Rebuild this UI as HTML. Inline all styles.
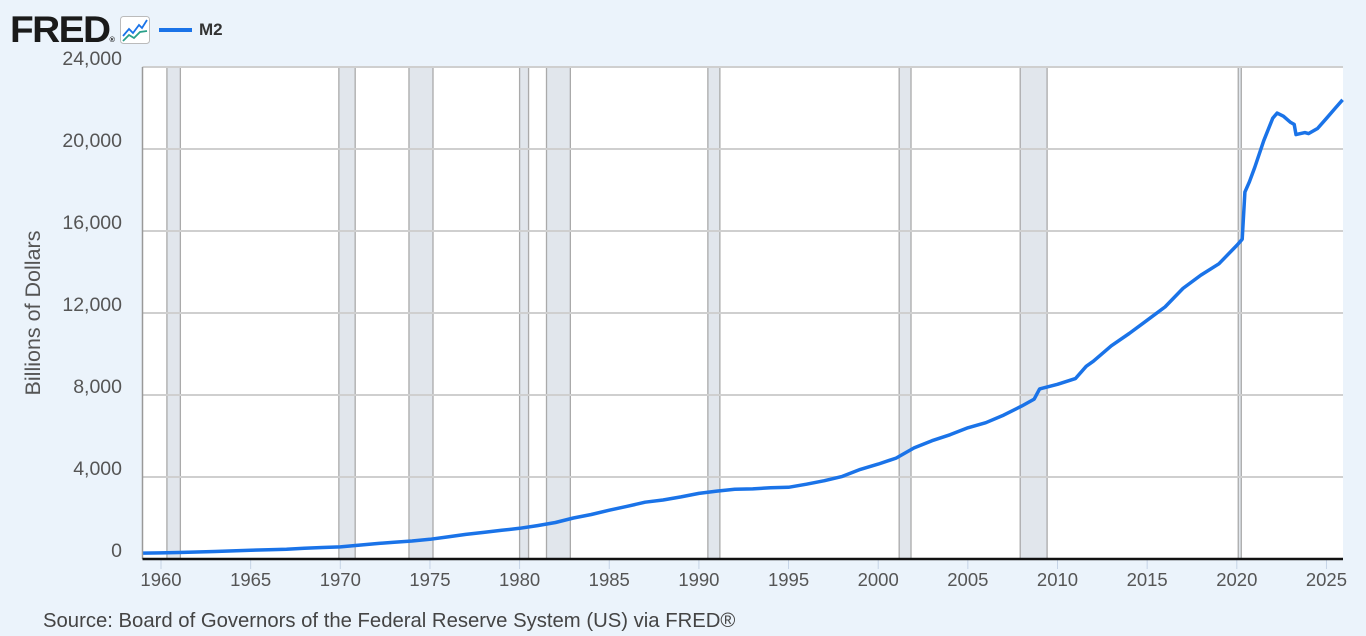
<!DOCTYPE html>
<html><head><meta charset="utf-8"><style>
html,body{margin:0;padding:0;background:#ebf3fb;width:1366px;height:636px;overflow:hidden;font-family:"Liberation Sans",sans-serif}
#hdr{position:absolute;left:10px;top:12px;height:34px}
</style></head><body>
<div id="hdr">
<span style="position:absolute;left:0;top:-2px;font-weight:900;font-size:37px;letter-spacing:-1.5px;color:#1a1a1a;line-height:40px;transform:scaleX(1.05);transform-origin:left">FRED<span style="font-size:7px;letter-spacing:0">®</span></span>
<svg style="position:absolute;left:110px;top:4px" width="30" height="28"><rect x="0.5" y="0.5" width="29" height="27" rx="3" fill="#fff" stroke="#bbb"/><polyline points="3,20 9,13 13,17 19,9 22,12 27,4" fill="none" stroke="#1a73e8" stroke-width="1.8"/><polyline points="3,25 9,19 14,22 20,16 27,15" fill="none" stroke="#2aa08a" stroke-width="1.8"/></svg>
<div style="position:absolute;left:149px;top:0;height:36px;white-space:nowrap"><span style="display:inline-block;width:33px;height:4px;background:#1a73e8;vertical-align:middle;margin-top:16px"></span><span style="position:absolute;left:40px;top:8px;font-weight:bold;font-size:17px;color:#333">M2</span></div>
</div>
<svg id="chart" width="1366" height="636" style="position:absolute;left:0;top:0"></svg>
<div style="position:absolute;left:43px;top:610px;font-size:20.3px;color:#444;white-space:nowrap">Source: Board of Governors of the Federal Reserve System (US) via FRED®</div>
<script>
const yearTicks=[1960,1965,1970,1975,1980,1985,1990,1995,2000,2005,2010,2015,2020,2025];
const valueTicks=[0,4000,8000,12000,16000,20000,24000];
const recStart=[1960.33,1969.92,1973.83,1980.0,1981.5,1990.5,2001.17,2007.92,2020.08];
const recEnd=[1961.08,1970.83,1975.17,1980.5,1982.83,1991.17,2001.83,2009.42,2020.25];
const dates=[1959,1960,1961,1962,1963,1964,1965,1966,1967,1968,1969,1970,1971,1972,1973,1974,1975,1976,1977,1978,1979,1980,1981,1982,1983,1984,1985,1986,1987,1988,1989,1990,1991,1992,1993,1994,1995,1996,1997,1998,1999,2000,2001,2002,2003,2004,2005,2006,2007,2008,2008.7,2009,2010,2011,2011.6,2012,2013,2014,2015,2016,2017,2018,2019,2020.0,2020.2,2020.3,2020.45,2020.7,2021.0,2021.5,2022.0,2022.25,2022.6,2023.0,2023.2,2023.3,2023.8,2024.0,2024.5,2025.0,2025.5,2025.9];
const m2=[286,300,315,340,368,397,428,455,480,525,560,590,670,750,820,880,960,1080,1200,1300,1400,1500,1630,1780,2000,2170,2380,2570,2770,2880,3030,3200,3310,3400,3420,3480,3500,3650,3820,4030,4370,4630,4920,5420,5770,6060,6400,6650,7020,7460,7800,8300,8520,8800,9400,9650,10400,11000,11650,12300,13200,13850,14400,15300,15500,15600,17900,18400,19100,20400,21500,21750,21600,21300,21200,20700,20800,20750,21000,21500,22000,22400];
const L=142.5,R=1343,T=67,B=559;
const X=y=>161+(y-1960)*17.93, Y=v=>B-v/24000*(B-T);
const svg=document.getElementById('chart'),NS='http://www.w3.org/2000/svg';
function mk(t,a,p){const e=document.createElementNS(NS,t);for(const k in a)e.setAttribute(k,a[k]);(p||svg).appendChild(e);return e;}
const bg=mk('rect',{x:L,y:T,width:R-L,height:B-T,fill:'#fff'});


recStart.forEach((s,i)=>{const r=mk('rect',{x:X(s),y:T,width:X(recEnd[i])-X(s),height:B-T,fill:'#e1e6ec'});


mk('line',{x1:X(s),x2:X(s),y1:T,y2:B,stroke:'#aaa','stroke-width':1.3});
mk('line',{x1:X(recEnd[i]),x2:X(recEnd[i]),y1:T,y2:B,stroke:'#aaa','stroke-width':1.3});});
valueTicks.forEach(v=>{if(v>0){const g=mk('line',{x1:L,x2:R,y1:Y(v),y2:Y(v),stroke:'#cfcfcf','stroke-width':2});

}
const t=mk('text',{x:122,y:Y(v)-2,'text-anchor':'end','font-size':19.5,fill:'#555','font-family':'Liberation Sans, sans-serif'});t.textContent=v.toLocaleString('en-US');

});
mk('line',{x1:L,x2:L,y1:T,y2:B,stroke:'#999','stroke-width':1.5});
yearTicks.forEach(y=>{mk('line',{x1:X(y),x2:X(y),y1:B,y2:B+10,stroke:'#c5d3e6','stroke-width':1});
const t=mk('text',{x:X(y),y:586,'text-anchor':'middle','font-size':18.5,fill:'#555','font-family':'Liberation Sans, sans-serif'});t.textContent=y;

});
mk('line',{x1:L,x2:R,y1:B,y2:B,stroke:'#111','stroke-width':2.5});
const yl=mk('text',{x:0,y:0,transform:'translate(40,313) rotate(-90)','text-anchor':'middle','font-size':21.5,fill:'#555','font-family':'Liberation Sans, sans-serif'});yl.textContent='Billions of Dollars';


const ln=mk('polyline',{points:dates.map((d,i)=>X(d).toFixed(1)+','+Y(m2[i]).toFixed(1)).join(' '),fill:'none',stroke:'#1a73e8','stroke-width':3.5,'stroke-linejoin':'round'});


</script>
</body></html>
